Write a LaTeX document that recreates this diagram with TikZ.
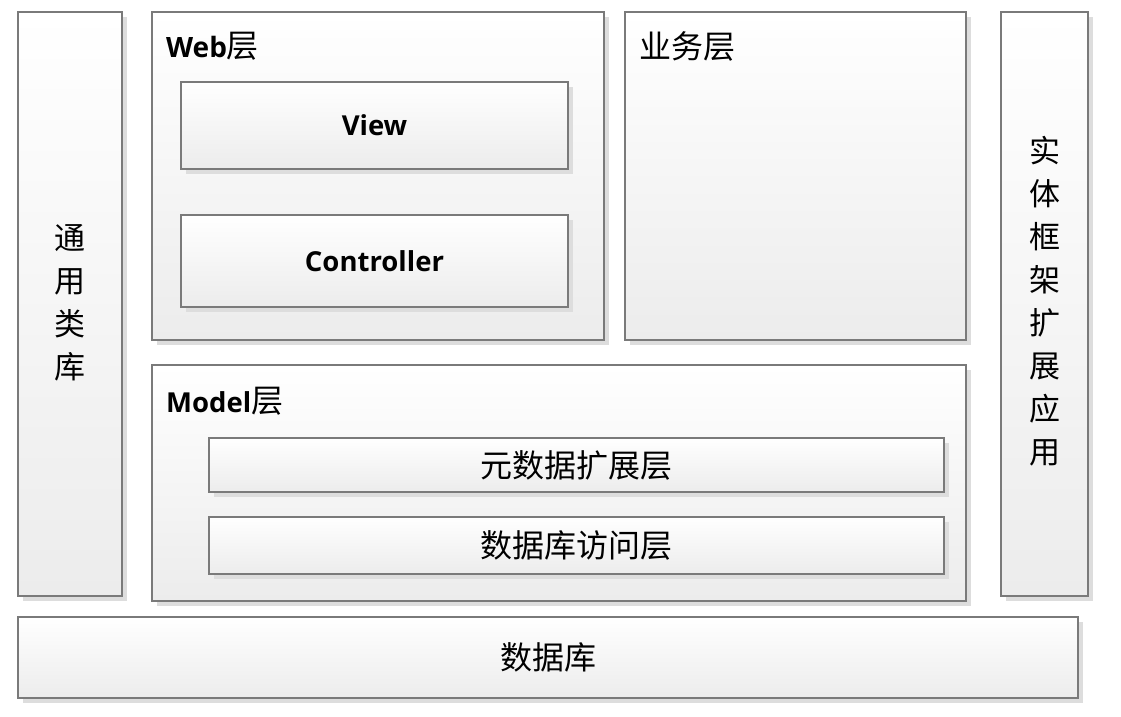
\documentclass[tikz,border=0pt]{standalone}
\usepackage{fontspec}
\newfontfamily\cjk{Noto Sans CJK SC}
\newfontfamily\lat{Open Sans}
\usetikzlibrary{shadows}
\definecolor{boxborder}{HTML}{7A7A7A}
\definecolor{boxbot}{HTML}{ECECEC}
\definecolor{shadowcol}{HTML}{DDDDDD}
\tikzset{
  box/.style={draw=boxborder, line width=1.3pt, rectangle, inner sep=0pt,
    top color=white, bottom color=boxbot,
    drop shadow={shadow xshift=5pt, shadow yshift=-5pt, fill=shadowcol, opacity=1}},
  latlabel/.style={font=\lat\bfseries\fontsize{27.5}{30}\selectfont, text=black},
  cjklabel/.style={font=\cjk\fontsize{32}{34}\selectfont, text=black},
  vertlabel/.style={font=\cjk\fontsize{31}{43}\selectfont, align=center, text=black},
  title/.style={anchor=west, inner sep=0pt, text=black}
}
\begin{document}
\begin{tikzpicture}[x=1pt,y=-1pt]
\fill[white] (0,0) rectangle (1121,716);
\useasboundingbox (0,0) rectangle (1121,716);
% side columns
\node[box, minimum width=104pt, minimum height=584pt] (lib) at (70,304) {};
\node[vertlabel] (libtxt) at (70,303) {通\\用\\类\\库};
\node[box, minimum width=87pt, minimum height=584pt] (ef) at (1044.5,304) {};
\node[vertlabel] (eftxt) at (1044.5,301) {实\\体\\框\\架\\扩\\展\\应\\用};
% web layer
\node[box, minimum width=452pt, minimum height=328pt] (web) at (378,176) {};
\node[title] (webtxt) at (166,46) {{\lat\bfseries\fontsize{28}{30}\selectfont Web}{\cjk\fontsize{32}{34}\selectfont 层}};
\node[box, minimum width=387pt, minimum height=87pt, latlabel] (view) at (374.5,125.5) {View};
\node[box, minimum width=387pt, minimum height=92pt, latlabel] (ctrl) at (374.5,261) {Controller};
% business layer
\node[box, minimum width=341pt, minimum height=328pt] (biz) at (795.5,176) {};
\node[title, cjklabel] (biztxt) at (639,46) {业务层};
% model layer
\node[box, minimum width=814pt, minimum height=236pt] (model) at (559,483) {};
\node[title] (modeltxt) at (166,401) {{\lat\bfseries\fontsize{27.5}{30}\selectfont Model}{\cjk\fontsize{32}{34}\selectfont 层}};
\node[box, minimum width=735pt, minimum height=54pt, cjklabel] (meta) at (576.5,465) {元数据扩展层};
\node[box, minimum width=735pt, minimum height=57pt, cjklabel] (dal) at (576.5,545.5) {数据库访问层};
% database
\node[box, minimum width=1060pt, minimum height=81pt, cjklabel] (db) at (548,657.5) {数据库};
\end{tikzpicture}
\end{document}
